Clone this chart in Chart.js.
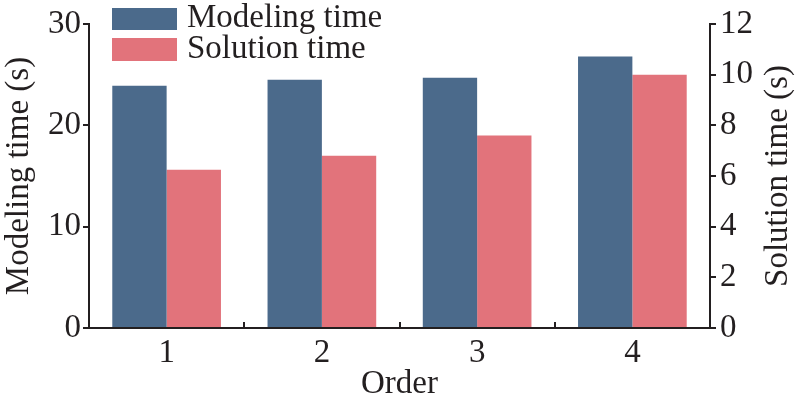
<!DOCTYPE html>
<html>
<head>
<meta charset="utf-8">
<script src="https://cdn.jsdelivr.net/npm/chart.js@4"></script>
<style>
  html, body { margin: 0; padding: 0; background: #fff; }
  #wrap { width: 798px; height: 405px; }
</style>
</head>
<body>
<div id="wrap"><canvas id="timeChart" width="798" height="405"></canvas></div>
<script>
const orders = ["1", "2", "3", "4"];
const modelingTime = [23.9, 24.5, 24.7, 26.8];
const solutionTime = [6.25, 6.8, 7.6, 10.0];

const leftTicks = [0, 10, 20, 30];
const rightTicks = [0, 2, 4, 6, 8, 10, 12];

const ink = "#231f20";
const blue = "#4b6a8b";
const red = "#e2737b";
const serif = "'Liberation Serif', 'Times New Roman', serif";
const font = { family: serif, size: 33 };

// legend boxes and right title drawn by hand so they can sit over the plot
const overlay = {
    id: "overlay",
    afterDraw(chart) {
        const c = chart.ctx;
        const rows = [[8, 22, 27], [38, 23, 58]];
        c.save();
        chart.data.datasets.forEach((ds, i) => {
            const [y, h, base] = rows[i];
            c.fillStyle = ds.backgroundColor;
            c.fillRect(112, y, 65, h);
            c.fillStyle = ink;
            c.font = "33px " + serif;
            c.textBaseline = "alphabetic";
            c.textAlign = "left";
            c.fillText(ds.label, 187, base);
        });
        const area = chart.chartArea;
        c.translate(778, (area.top + area.bottom) / 2);
        c.rotate(-Math.PI / 2);
        c.textAlign = "center";
        c.textBaseline = "middle";
        c.fillText("Solution time (s)", 0, 0);
        c.restore();
    }
};

new Chart(document.getElementById("timeChart").getContext("2d"), {
    type: "bar",
    data: {
        labels: orders,
        datasets: [
            {
                label: "Modeling time",
                data: modelingTime,
                backgroundColor: blue,
                yAxisID: "y",
                categoryPercentage: 0.7,
                barPercentage: 1.0
            },
            {
                label: "Solution time",
                data: solutionTime,
                backgroundColor: red,
                yAxisID: "y1",
                categoryPercentage: 0.7,
                barPercentage: 1.0
            }
        ]
    },
    options: {
        responsive: false,
        animation: false,
        layout: { padding: { top: 24, left: 0, right: 0, bottom: 0 } },
        plugins: {
            legend: { display: false },
            tooltip: { enabled: false }
        },
        scales: {
            x: {
                offset: true,
                grid: {
                    offset: true,
                    drawOnChartArea: false,
                    tickLength: -6,
                    color: ink,
                    lineWidth: 2
                },
                border: { color: ink, width: 2 },
                ticks: { font: font, color: ink, padding: 12 },
                title: {
                    display: true,
                    text: "Order",
                    font: font,
                    color: ink,
                    padding: { top: 0, bottom: 1 }
                },
                afterFit: s => { s.height = 77; }
            },
            y: {
                position: "left",
                min: 0,
                max: 30,
                afterBuildTicks: s => { s.ticks = leftTicks.map(v => ({ value: v })); },
                grid: {
                    drawOnChartArea: false,
                    tickLength: 6,
                    color: ink,
                    lineWidth: 2
                },
                border: { color: ink, width: 2 },
                ticks: { font: font, color: ink, padding: 2 },
                title: {
                    display: true,
                    text: "Modeling time (s)",
                    font: font,
                    color: ink,
                    padding: { top: 0, bottom: 0 }
                },
                afterFit: s => { s.width = 89; }
            },
            y1: {
                position: "right",
                min: 0,
                max: 12,
                afterBuildTicks: s => { s.ticks = rightTicks.map(v => ({ value: v })); },
                grid: {
                    drawOnChartArea: false,
                    tickLength: 6,
                    color: ink,
                    lineWidth: 2
                },
                border: { color: ink, width: 2 },
                ticks: { font: font, color: ink, padding: 4 },
                afterFit: s => { s.width = 88; }
            }
        }
    },
    plugins: [overlay]
});
</script>
</body>
</html>
